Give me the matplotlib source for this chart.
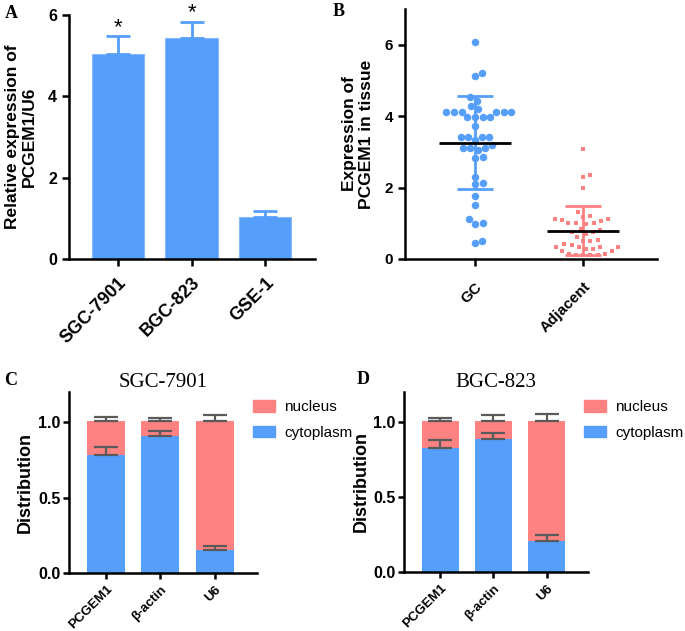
import numpy as np
import matplotlib
matplotlib.use('Agg')
import matplotlib.pyplot as plt
from matplotlib.patches import Patch

plt.rcParams['font.family'] = ['Liberation Sans', 'DejaVu Sans']

BLUE = '#559EFA'
PINK = '#FF8282'
GREY = '#5A5A5A'

# A: qRT-PCR in cell lines
cell_lines = ['SGC-7901', 'BGC-823', 'GSE-1']
rel_expr = [5.04, 5.43, 1.03]
rel_err = [0.44, 0.40, 0.15]
signif = ['*', '*', '']

# B: tissue scatter
tissue_groups = ['GC', 'Adjacent']
gc_values = [6.09, 5.22, 5.11, 4.55, 4.43, 4.29, 4.19,
             4.13, 4.13, 4.13, 4.13, 4.13, 4.13,
             3.99, 3.99, 3.99, 3.99, 3.72,
             3.43, 3.43, 3.43, 3.43, 3.33, 3.20, 3.10, 3.10, 3.10, 3.04,
             2.84, 2.87, 2.31, 2.12, 2.09, 1.77, 1.51,
             1.00, 0.97, 1.11, 0.44, 0.51]
adj_values = [3.08, 2.34, 2.31, 2.00,
              1.33, 1.21, 1.19, 1.12, 1.12, 1.09, 1.07, 1.00, 1.00, 1.00,
              0.98, 0.85, 0.80, 0.77, 0.77, 0.70,
              0.63, 0.53, 0.51, 0.51, 0.42, 0.40,
              0.33, 0.33, 0.33, 0.33, 0.29, 0.29, 0.22, 0.22,
              0.15, 0.12, 0.10, 0.10, 0.12, 0.15]

# C, D: nuclear / cytoplasmic fractionation
fractions = ['PCGEM1', 'β-actin', 'U6']
sgc_cyto = [0.78, 0.91, 0.15]
sgc_nuc = [0.23, 0.10, 0.86]
sgc_cyto_err = [0.055, 0.03, 0.03]
sgc_nuc_err = [0.025, 0.02, 0.035]
bgc_cyto = [0.83, 0.89, 0.21]
bgc_nuc = [0.18, 0.12, 0.80]
bgc_cyto_err = [0.05, 0.037, 0.037]
bgc_nuc_err = [0.02, 0.035, 0.045]

W, H = 685, 631
fig = plt.figure(figsize=(W / 100, H / 100), dpi=100)


def px_axes(l, t, r, b):
    return fig.add_axes([l / W, 1 - b / H, (r - l) / W, (b - t) / H])


def style(ax):
    ax.spines['top'].set_visible(False)
    ax.spines['right'].set_visible(False)
    ax.spines['left'].set_linewidth(1.8)
    ax.spines['bottom'].set_linewidth(1.8)
    ax.tick_params(width=1.8, length=5, direction='out')


def swarm_offsets(values, diam, sx, sy):
    # simple beeswarm in pixel space, returns x offsets in data units
    values = np.asarray(values)
    placed = []
    offs = np.zeros(len(values))
    for i in np.argsort(values):
        y = values[i] * sy
        cands = [0.0]
        for px, py in placed:
            dy = y - py
            if abs(dy) < diam:
                dx = np.sqrt(diam ** 2 - dy ** 2)
                cands += [px + dx, px - dx]
        cands.sort(key=abs)
        for c in cands:
            if all((c - px) ** 2 + (y - py) ** 2 >= diam ** 2 - 1e-6 for px, py in placed):
                break
        placed.append((c, y))
        offs[i] = c / sx
    return offs


bold = dict(fontweight='bold')

# ---- A ----
axA = px_axes(69, 15, 315, 259)
xa = np.arange(len(cell_lines))
axA.bar(xa, rel_expr, width=0.71, color=BLUE, edgecolor='#86B9FC', linewidth=0.8, zorder=2)
axA.errorbar(xa, rel_expr, yerr=[np.zeros(len(xa)), rel_err], fmt='none', ecolor=BLUE,
             elinewidth=2, capsize=8.5, capthick=2, zorder=3)
for i, s in enumerate(signif):
    if s:
        axA.text(xa[i], rel_expr[i] + rel_err[i] + 0.08, s, ha='center', va='baseline',
                 fontsize=16, clip_on=False)
axA.set_xlim(-0.667, 2.68)
axA.set_ylim(0, 6)
axA.set_yticks([0, 2, 4, 6])
axA.set_xticks(xa)
axA.set_xticklabels(cell_lines, rotation=45, ha='right', rotation_mode='anchor', fontsize=13, **bold)
axA.tick_params(axis='y', labelsize=11.5)
axA.tick_params(axis='x', pad=6)
for t in axA.get_yticklabels():
    t.set_fontweight('bold')
axA.set_ylabel('Relative expression of\nPCGEM1/U6', fontsize=12.5, **bold)
axA.yaxis.set_label_coords(-0.13, 0.5)
style(axA)

# ---- B ----
axB = px_axes(405, 9, 657, 259)
sx, sy = 108.0, 35.7
gc_x = 0 + swarm_offsets(gc_values, 7.6, sx, sy)
adj_x = 1 + swarm_offsets(adj_values, 7.3, sx, sy)
axB.plot(gc_x, gc_values, 'o', color=BLUE, markersize=5.4, markeredgewidth=0, zorder=2)
axB.plot(adj_x, adj_values, 's', color=PINK, markersize=3.2, markeredgewidth=0, zorder=2)
for i, (vals, col) in enumerate([(gc_values, BLUE), (adj_values, PINK)]):
    m = np.mean(vals)
    sd = np.std(vals, ddof=1)
    axB.errorbar([i], [m], yerr=[sd], fmt='none', ecolor=col, elinewidth=2,
                 capsize=13, capthick=2, zorder=3)
    axB.hlines(m, i - 0.33, i + 0.33, color='black', linewidth=2, zorder=4)
axB.set_xlim(-0.648, 1.685)
axB.set_ylim(0, 7)
axB.set_yticks([0, 2, 4, 6])
axB.set_xticks([0, 1])
axB.set_xticklabels(tissue_groups, rotation=45, ha='right', rotation_mode='anchor', fontsize=11, **bold)
axB.tick_params(axis='y', labelsize=11)
axB.tick_params(axis='x', pad=10)
for t in axB.get_yticklabels():
    t.set_fontweight('bold')
axB.set_ylabel('Expression of\nPCGEM1 in tissue', fontsize=12.5, **bold)
axB.yaxis.set_label_coords(-0.123, 0.5)
style(axB)


# ---- C, D ----
def fraction_panel(box, title, cyto, nuc, cyto_err, nuc_err, label_x):
    ax = px_axes(*box)
    x = np.arange(len(fractions))
    cyto = np.array(cyto)
    nuc = np.array(nuc)
    ax.bar(x, cyto, width=0.7, color=BLUE, zorder=2)
    ax.bar(x, nuc, width=0.7, bottom=cyto, color=PINK, zorder=2)
    ax.errorbar(x, cyto, yerr=[np.zeros(len(x)), cyto_err], fmt='none', ecolor=GREY,
                elinewidth=1.6, capsize=8.3, capthick=1.6, zorder=3)
    ax.errorbar(x, cyto + nuc, yerr=[np.zeros(len(x)), nuc_err], fmt='none', ecolor=GREY,
                elinewidth=1.6, capsize=8.3, capthick=1.6, zorder=3)
    ax.set_xlim(-0.68, 2.78)
    ax.set_ylim(0, 1.2)
    ax.set_yticks([0, 0.5, 1.0])
    ax.set_yticklabels(['0.0', '0.5', '1.0'], fontsize=11.5, **bold)
    ax.set_xticks(x)
    ax.set_xticklabels(fractions, rotation=45, ha='right', rotation_mode='anchor', fontsize=9.5, **bold)
    ax.set_ylabel('Distribution', fontsize=13, **bold)
    ax.yaxis.set_label_coords(label_x, 0.5)
    ax.set_title(title, family='Liberation Serif', fontsize=15, pad=0)
    style(ax)
    ax.tick_params(axis='x', length=4)
    ax.tick_params(axis='y', length=4, pad=2)
    ax.legend(handles=[Patch(color=PINK, label='nucleus'), Patch(color=BLUE, label='cytoplasm')],
              loc='upper left', bbox_to_anchor=((box[2] - 4) / W, 1 - 400 / H),
              bbox_transform=fig.transFigure, frameon=False, fontsize=11,
              handlelength=1.45, handleheight=0.8, handletextpad=0.6,
              labelspacing=0.75, borderpad=0, borderaxespad=0)
    return ax


fraction_panel((69, 392, 257, 573), 'SGC-7901', sgc_cyto, sgc_nuc, sgc_cyto_err, sgc_nuc_err, -0.185)
fraction_panel((404, 392, 588, 572), 'BGC-823', bgc_cyto, bgc_nuc, bgc_cyto_err, bgc_nuc_err, -0.185)

# panel letters
for lab, x, y in [('A', 5, 5), ('B', 333, 3), ('C', 4, 372), ('D', 357, 371)]:
    fig.text(x / W, 1 - y / H, lab, ha='left', va='top', family='Liberation Serif',
             fontweight='bold', fontsize=13)

fig.savefig('out.png', dpi=100)
